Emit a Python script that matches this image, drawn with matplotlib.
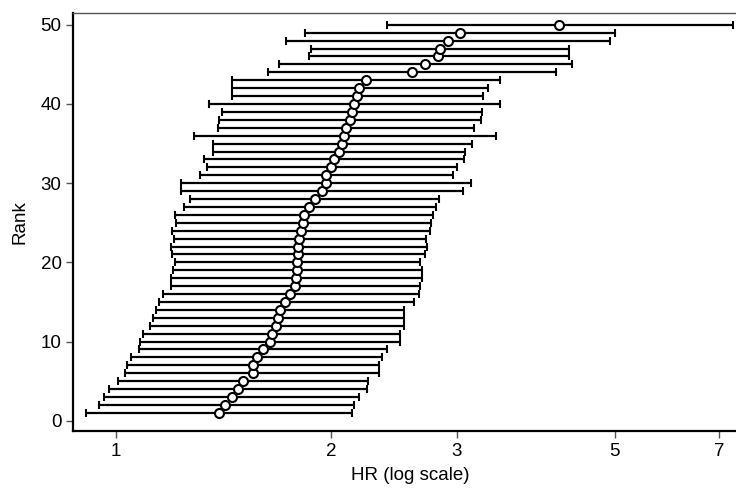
import matplotlib
matplotlib.use("Agg")
import matplotlib.pyplot as plt
from matplotlib.ticker import FixedLocator, NullLocator

plt.rcParams['font.family'] = ['Liberation Sans', 'DejaVu Sans']

# rank 1..50, hazard ratio with lower / upper confidence limits
rank = list(range(1, 51))
hr = [1.394, 1.423, 1.455, 1.484, 1.506, 1.553, 1.557, 1.575, 1.608, 1.642,
      1.653, 1.677, 1.688, 1.695, 1.724, 1.753, 1.780, 1.785, 1.792, 1.795,
      1.797, 1.800, 1.805, 1.817, 1.830, 1.835, 1.866, 1.897, 1.940, 1.967,
      1.970, 2.002, 2.019, 2.050, 2.070, 2.087, 2.099, 2.128, 2.140, 2.155,
      2.176, 2.191, 2.238, 2.597, 2.707, 2.829, 2.841, 2.917, 3.030, 4.180]
lower = [0.906, 0.945, 0.962, 0.978, 1.006, 1.030, 1.035, 1.048, 1.078, 1.080,
         1.090, 1.117, 1.128, 1.136, 1.149, 1.162, 1.193, 1.193, 1.201, 1.209,
         1.196, 1.195, 1.205, 1.198, 1.214, 1.208, 1.243, 1.270, 1.232, 1.232,
         1.311, 1.339, 1.326, 1.367, 1.367, 1.284, 1.390, 1.394, 1.409, 1.348,
         1.453, 1.453, 1.453, 1.633, 1.690, 1.866, 1.876, 1.731, 1.842, 2.395]
upper = [2.138, 2.152, 2.191, 2.244, 2.257, 2.333, 2.333, 2.356, 2.399, 2.497,
         2.501, 2.532, 2.532, 2.532, 2.614, 2.658, 2.662, 2.681, 2.681, 2.662,
         2.711, 2.726, 2.718, 2.750, 2.760, 2.783, 2.806, 2.834, 3.067, 3.145,
         2.967, 3.008, 3.071, 3.080, 3.154, 3.404, 3.176, 3.250, 3.260, 3.446,
         3.265, 3.324, 3.450, 4.129, 4.347, 4.305, 4.305, 4.918, 5.000, 7.320]

xticks = [1, 2, 3, 5, 7]
yticks = [0, 10, 20, 30, 40, 50]

fig = plt.figure(figsize=(7.36, 4.9), dpi=100)
# plot region runs a little past the right edge of the image, as in the original
ax = fig.add_axes([0.0996, 0.1204, 0.915, 0.854])

err = [[h - l for h, l in zip(hr, lower)], [u - h for h, u in zip(hr, upper)]]
ax.errorbar(hr, rank, xerr=err, fmt='o', color='black', ecolor='black',
            elinewidth=1.6, capsize=3.2, capthick=1.6,
            markersize=6.5, markerfacecolor='white', markeredgecolor='black',
            markeredgewidth=1.5, zorder=3)

ax.set_xscale('log')
ax.set_xlim(0.871, 7.65)
ax.set_ylim(-1.3, 51.55)
ax.xaxis.set_major_locator(FixedLocator(xticks))
ax.xaxis.set_minor_locator(NullLocator())
ax.set_xticklabels([str(t) for t in xticks])
ax.set_yticks(yticks)

ax.tick_params(axis='both', labelsize=13.5, length=5, width=1, color='#555555')
ax.set_xlabel('HR (log scale)', fontsize=13.5, labelpad=5)
ax.set_ylabel('Rank', fontsize=13.5, labelpad=9)

ax.spines['left'].set_linewidth(1.6)
ax.spines['bottom'].set_linewidth(1.6)
ax.spines['top'].set_color('#555555')
ax.spines['top'].set_linewidth(1.0)
ax.spines['right'].set_visible(False)

fig.savefig('out.png', dpi=100)
